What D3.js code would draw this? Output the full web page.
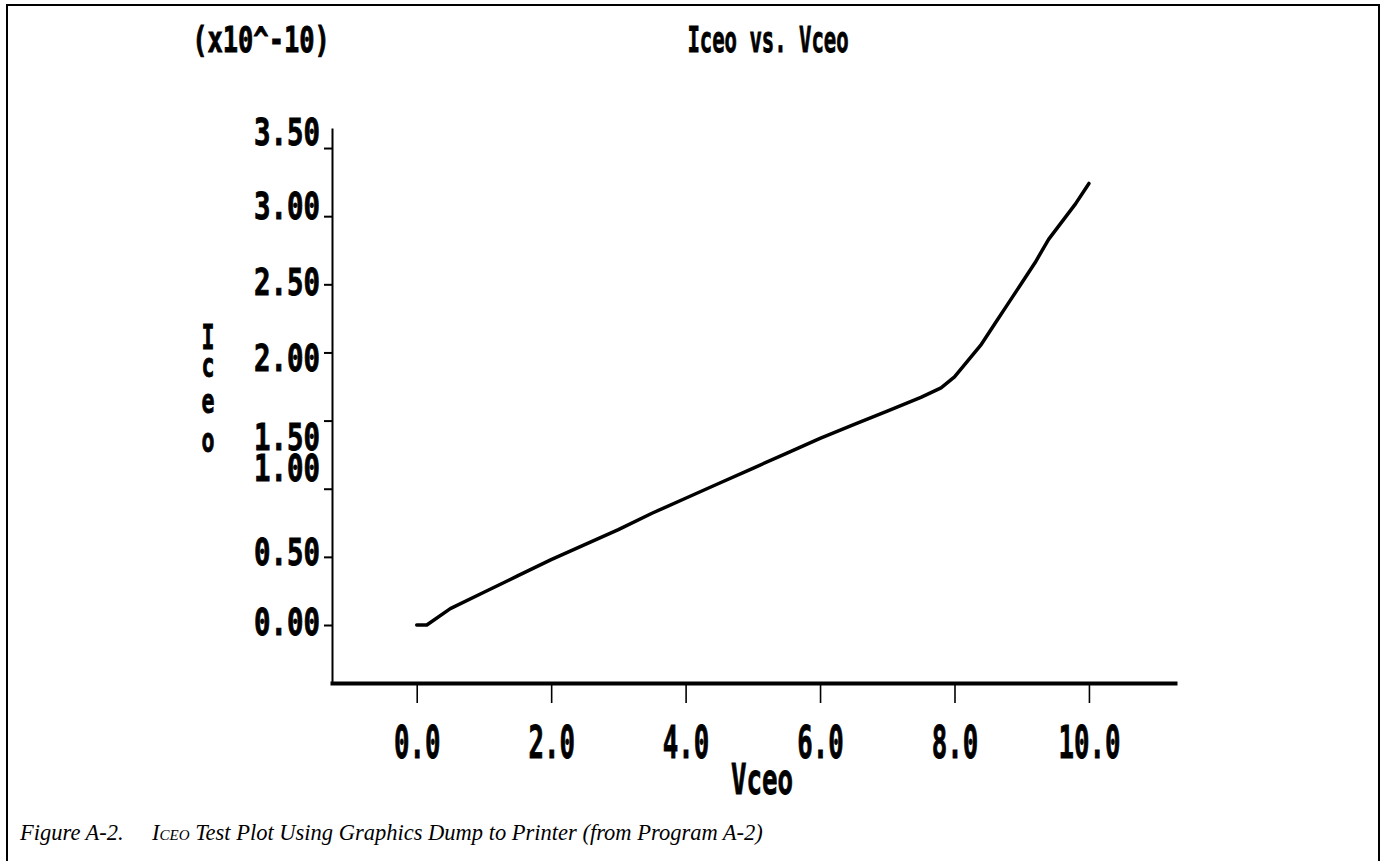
<!DOCTYPE html>
<html><head><meta charset="utf-8">
<script src="https://cdn.jsdelivr.net/npm/d3@7"></script>
<style>body{margin:0;background:#fff}svg{display:block}</style>
</head><body><svg id="c" width="1386" height="861"></svg>
<script>
// ---- data ----
const chartTitle = "Iceo vs. Vceo";
const scaleNote = "(x10^-10)";
const xAxisTitle = "Vceo";
const yAxisTitle = ["I", "c", "e", "o"];
const xTickValues = [0, 2, 4, 6, 8, 10];
const yTickValues = [0, 0.5, 1, 1.5, 2, 2.5, 3, 3.5];
const vceo = [0, 0.15, 0.5, 1, 1.5, 2, 2.5, 3, 3.5, 4, 4.5, 5, 5.5, 6, 6.5, 7, 7.5, 7.8, 8.0, 8.2, 8.4, 8.6, 8.8, 9.0, 9.2, 9.4, 9.6, 9.8, 10.0];
const iceo = [0, 0, 0.12, 0.24, 0.36, 0.48, 0.59, 0.70, 0.82, 0.93, 1.04, 1.15, 1.26, 1.37, 1.47, 1.57, 1.67, 1.74, 1.82, 1.94, 2.06, 2.21, 2.36, 2.51, 2.66, 2.83, 2.96, 3.09, 3.24];
const captionLead = "Figure A-2.";
const captionSym = "I";
const captionSub = "CEO";
const captionRest = " Test Plot Using Graphics Dump to Printer (from Program A-2)";

// ---- layout ----
const svg = d3.select("#c");
const mono = "'DejaVu Sans Mono', monospace";
const axisLeftX = 332, axisBottomY = 683;
const x = d3.scaleLinear().domain([-1.29, 11.31]).range([330, 1177]);
const y = d3.scaleLinear().domain([-0.4256, 3.647]).range([683, 128]);

// frame
svg.append("path")
  .attr("d", "M7,870 V5 H1379 V870")
  .attr("fill", "none").attr("stroke", "#000").attr("stroke-width", 2);

function heavy(sel) {
  return sel.attr("font-family", mono).attr("font-weight", "bold")
    .attr("fill", "#000").attr("stroke", "#000").attr("stroke-width", 0.9);
}

// y axis
const gy = svg.append("g").attr("transform", `translate(${axisLeftX},0)`)
  .call(d3.axisLeft(y).tickValues(yTickValues).tickFormat(d3.format(".2f"))
    .tickSize(8).tickPadding(4).tickSizeOuter(0));
gy.select(".domain").attr("stroke-width", 2);
gy.selectAll(".tick line").attr("stroke-width", 2);
const yLabelShift = {"3.50": -16, "3.00": -10, "2.50": -2, "2.00": 6, "1.50": 16, "1.00": -21, "0.50": -5, "0.00": -3};
heavy(gy.selectAll(".tick text"))
  .attr("font-size", 37)
  .attr("dy", null)
  .attr("dominant-baseline", "central")
  .attr("y", function() { return yLabelShift[this.textContent] || 0; })
  .attr("textLength", function() { return this.textContent.length * 16.5; })
  .attr("lengthAdjust", "spacingAndGlyphs");

// x axis
const gx = svg.append("g").attr("transform", `translate(0,${axisBottomY})`)
  .call(d3.axisBottom(x).tickValues(xTickValues).tickFormat(d3.format(".1f"))
    .tickSize(20).tickPadding(22).tickSizeOuter(0));
gx.select(".domain").attr("stroke-width", 4);
gx.selectAll(".tick line").attr("stroke-width", 1.6);
heavy(gx.selectAll(".tick text"))
  .attr("font-size", 45)
  .attr("dy", null)
  .attr("dominant-baseline", "central")
  .attr("y", 59)
  .attr("textLength", function() { return this.textContent.length * 15.5; })
  .attr("lengthAdjust", "spacingAndGlyphs");

// curve
const pts = vceo.map((v, i) => [v, iceo[i]]);
svg.append("path")
  .datum(pts)
  .attr("d", d3.line().x(d => x(d[0])).y(d => y(d[1])))
  .attr("fill", "none").attr("stroke", "#000").attr("stroke-width", 3.5)
  .attr("stroke-linejoin", "round").attr("stroke-linecap", "round");

// titles
function monoText(txt, cx, cy, size, cell, anchor) {
  return heavy(svg.append("text").text(txt))
    .attr("x", cx).attr("y", cy)
    .attr("text-anchor", anchor || "middle").attr("dominant-baseline", "central")
    .attr("font-size", size)
    .attr("textLength", txt.length * cell).attr("lengthAdjust", "spacingAndGlyphs");
}
monoText(scaleNote, 261, 39, 36, 15.3);
monoText(chartTitle, 768, 39, 36, 12.4);
monoText(xAxisTitle, 762, 779, 42, 15.5);
const yTitlePos = [337, 365, 401, 440];
yAxisTitle.forEach((ch, i) => monoText(ch, 208, yTitlePos[i], 34, 13));

// caption
const cap = svg.append("text")
  .attr("x", 20).attr("y", 840)
  .attr("font-family", "'Liberation Serif', serif").attr("font-style", "italic")
  .attr("font-size", 22.5).attr("fill", "#000");
cap.append("tspan").text(captionLead);
cap.append("tspan").attr("x", 152).text(captionSym);
cap.append("tspan").attr("font-size", 15).text(captionSub);
cap.append("tspan").text(captionRest);
</script>
</body></html>
